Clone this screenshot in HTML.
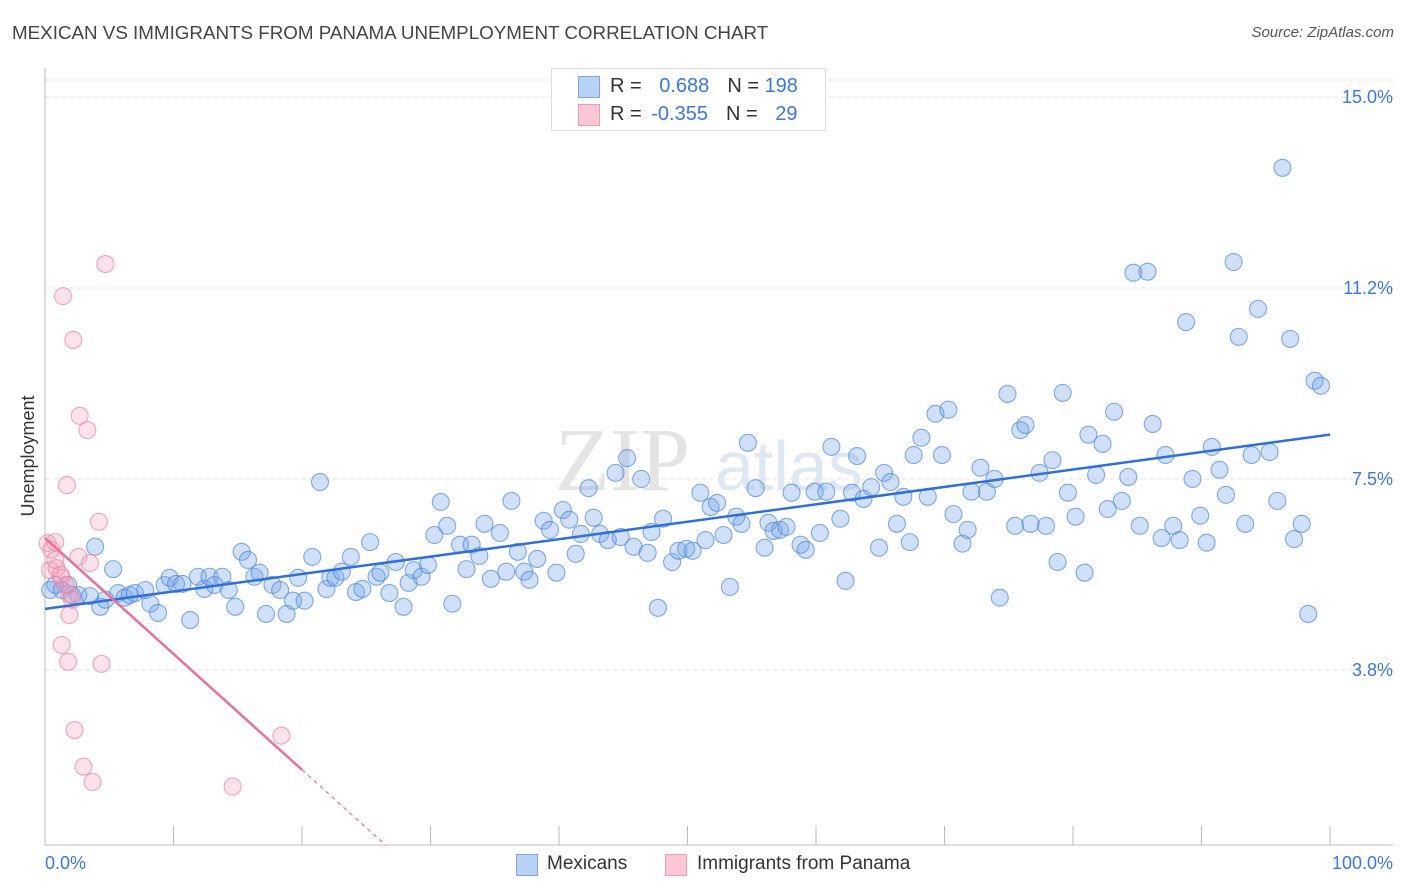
<!DOCTYPE html>
<html><head><meta charset="utf-8">
<style>
body{margin:0;background:#fff;font-family:"Liberation Sans",sans-serif;}
#wrap{position:relative;width:1406px;height:892px;overflow:hidden;}
.t{position:absolute;white-space:nowrap;}
</style></head>
<body>
<div id="wrap">
<div class="t" style="left:12px;top:22px;font-size:18.8px;color:#444;">MEXICAN VS IMMIGRANTS FROM PANAMA UNEMPLOYMENT CORRELATION CHART</div>
<div class="t" style="right:12px;top:24px;font-size:15px;color:#555;font-style:italic;">Source: ZipAtlas.com</div>
<svg id="chart" width="1406" height="892" style="position:absolute;left:0;top:0"></svg>
</div>
<script>
const blueX=[0.4,0.8,1.3,1.8,2.1,2.6,3.5,3.9,4.3,4.7,5.3,5.7,6.2,6.6,7.0,7.8,8.2,8.8,9.3,9.7,10.2,10.7,11.3,11.9,12.4,12.8,13.2,13.8,14.3,14.8,15.3,15.8,16.3,16.7,17.2,17.7,18.3,18.8,19.3,19.7,20.2,20.8,21.4,21.9,22.2,22.6,23.1,23.8,24.2,24.7,25.3,25.8,26.1,26.8,27.3,27.9,28.3,28.7,29.3,29.8,30.3,30.8,31.3,31.7,32.3,32.8,33.2,33.8,34.2,34.7,35.4,35.9,36.3,36.8,37.3,37.7,38.3,38.8,39.3,39.8,40.3,40.8,41.3,41.7,42.3,42.7,43.2,43.8,44.4,44.8,45.3,45.8,46.4,46.9,47.2,47.7,48.1,48.8,49.3,49.9,50.4,51.0,51.4,51.8,52.3,52.8,53.3,53.8,54.2,54.7,55.3,56.0,56.3,56.7,57.2,57.7,58.1,58.8,59.2,59.9,60.3,60.8,61.2,61.9,62.3,62.8,63.2,63.7,64.3,64.9,65.3,65.8,66.3,66.8,67.3,67.6,68.2,68.7,69.3,69.8,70.3,70.7,71.4,71.8,72.1,72.8,73.3,73.9,74.3,74.9,75.5,75.9,76.3,76.7,77.4,77.9,78.4,78.8,79.2,79.6,80.2,80.9,81.2,81.8,82.3,82.7,83.2,83.8,84.3,84.7,85.2,85.8,86.2,86.9,87.2,87.8,88.3,88.8,89.3,89.9,90.4,90.8,91.4,91.9,92.5,92.9,93.4,93.9,94.4,95.3,95.9,96.3,96.9,97.2,97.8,98.3,98.8,99.3];
const blueY=[5.32,5.42,5.32,5.42,5.22,5.22,5.20,6.17,4.99,5.13,5.73,5.26,5.17,5.22,5.26,5.32,5.05,4.87,5.42,5.56,5.44,5.44,4.73,5.58,5.34,5.58,5.42,5.58,5.32,4.99,6.07,5.91,5.58,5.66,4.85,5.42,5.32,4.85,5.11,5.56,5.11,5.97,7.44,5.34,5.56,5.56,5.68,5.97,5.28,5.34,6.26,5.58,5.66,5.26,5.87,4.99,5.46,5.71,5.58,5.81,6.40,7.05,6.58,5.05,6.21,5.73,6.21,5.99,6.62,5.54,6.44,5.68,7.07,6.07,5.68,5.52,5.93,6.68,6.50,5.66,6.89,6.70,6.03,6.42,7.32,6.74,6.42,6.30,7.62,6.36,7.91,6.17,7.50,6.05,6.46,4.97,6.72,5.87,6.09,6.13,6.09,7.23,6.30,6.95,7.03,6.40,5.38,6.76,6.62,8.21,7.32,6.15,6.64,6.48,6.50,6.56,7.23,6.21,6.11,7.25,6.44,7.25,8.13,6.72,5.50,7.23,7.95,7.11,7.34,6.15,7.62,7.44,6.62,7.15,6.26,7.97,8.31,7.15,8.78,7.97,8.86,6.81,6.23,6.50,7.25,7.72,7.25,7.50,5.17,9.17,6.58,8.46,8.56,6.62,7.62,6.58,7.87,5.87,9.19,7.23,6.76,5.66,8.37,7.58,8.19,6.91,8.82,7.07,7.54,11.55,6.58,11.57,8.58,6.34,7.97,6.58,6.30,10.58,7.50,6.78,6.25,8.13,7.68,7.19,11.76,10.29,6.62,7.97,10.84,8.03,7.07,13.61,10.25,6.32,6.62,4.85,9.43,9.33];
const pinkX=[0.2,0.5,0.8,0.4,0.9,1.3,1.6,1.9,1.4,2.2,2.7,3.3,1.7,4.2,2.6,3.5,4.7,1.3,1.8,4.4,2.3,3.0,3.7,14.6,18.4,1.9,1.2,2.1,0.8];
const pinkY=[6.24,6.11,6.26,5.71,5.75,5.56,5.42,5.24,11.09,10.23,8.74,8.46,7.38,6.66,5.97,5.85,11.72,4.24,3.91,3.87,2.57,1.85,1.55,1.46,2.46,4.83,5.62,5.13,5.91];
const blueTrend=[4.95,8.37];   // y at x=0 and x=100
const pinkTrend=[6.34,-0.2275]; // intercept, slope
const yTicks=[15.0,11.25,7.5,3.75];
const yTickLabels=["15.0%","11.2%","7.5%","3.8%"];
const xTicks=[0,10,20,30,40,50,60,70,80,90,100];

const X0=45,X1=1330,YT=97,PPY=50.93;
const sx=v=>X0+(X1-X0)*v/100;
const sy=v=>YT+(15-v)*PPY;
const NS="http://www.w3.org/2000/svg";
const svg=document.getElementById('chart');
function mk(tag,attrs,parent){const e=document.createElementNS(NS,tag);for(const k in attrs)e.setAttribute(k,attrs[k]);(parent||svg).appendChild(e);return e;}

let g=mk('line',{x1:X0,x2:1393,y1:80,y2:80,stroke:'#ddd','stroke-dasharray':'4,4'});


yTicks.forEach((v,i)=>{
  const l=mk('line',{x1:X0,x2:1393,y1:sy(v),y2:sy(v),stroke:'#e2e2e2','stroke-dasharray':'4,4'});
  
  
  const t=mk('text',{x:1393,y:sy(v)+6,'text-anchor':'end','font-size':18,fill:'#3b78d8','font-family':'Liberation Sans, sans-serif'});
  t.textContent=yTickLabels[i];
  
  
});
let ax=mk('line',{x1:X0,x2:X0,y1:68,y2:845,stroke:'#bbb'});


ax=mk('line',{x1:X0,x2:1393,y1:845,y2:845,stroke:'#bbb'});


xTicks.forEach(v=>{
  const l=mk('line',{x1:sx(v),x2:sx(v),y1:826,y2:845,stroke:'#bbb'});
  
  
});
let tx=mk('text',{x:45,y:869,'font-size':18,fill:'#3b78d8','font-family':'Liberation Sans, sans-serif'});tx.textContent='0.0%';


tx=mk('text',{x:1393,y:869,'text-anchor':'end','font-size':18,fill:'#3b78d8','font-family':'Liberation Sans, sans-serif'});tx.textContent='100.0%';


tx=mk('text',{x:34,y:456,'text-anchor':'middle','font-size':18,fill:'#333',transform:'rotate(-90 34 456)','font-family':'Liberation Sans, sans-serif'});tx.textContent='Unemployment';


tx=mk('text',{x:555,y:490,'font-size':90,fill:'#e4e4e4','font-family':'Liberation Serif, serif'});tx.textContent='ZIP';


tx=mk('text',{x:715,y:490,'font-size':70,fill:'#dfe7f3','font-family':'Liberation Sans, sans-serif'});tx.textContent='atlas';



blueX.forEach((x,i)=>{
  const c=mk('circle',{cx:sx(x),cy:sy(blueY[i]),r:8.5,fill:'rgba(120,165,235,0.35)',stroke:'rgba(80,135,220,0.7)','stroke-width':1.1});
  
  
});
pinkX.forEach((x,i)=>{
  const c=mk('circle',{cx:sx(x),cy:sy(pinkY[i]),r:8.5,fill:'rgba(245,160,185,0.3)',stroke:'rgba(235,130,160,0.7)','stroke-width':1.1});
  
  
});
let tl=mk('line',{x1:sx(0),y1:sy(blueTrend[0]),x2:sx(100),y2:sy(blueTrend[1]),stroke:'#2f6fd6','stroke-width':2.5});


const pEnd=20, pDash=(0.3-pinkTrend[0])/pinkTrend[1];
tl=mk('line',{x1:sx(0),y1:sy(pinkTrend[0]),x2:sx(pEnd),y2:sy(pinkTrend[0]+pinkTrend[1]*pEnd),stroke:'#e8709a','stroke-width':2.5});


tl=mk('line',{x1:sx(pEnd),y1:sy(pinkTrend[0]+pinkTrend[1]*pEnd),x2:sx(pDash),y2:sy(0.3),stroke:'#e8709a','stroke-width':1.2,'stroke-dasharray':'4,4'});


</script>
<div style="position:absolute;left:551px;top:68px;width:273px;height:61px;border:1px solid #ddd;background:#fff;font-size:20px;">
  <div style="position:absolute;left:26px;top:7px;width:20px;height:20px;background:#b8d2f5;border:1px solid #7ea6e4;"></div>
  <div class="t" style="left:58px;top:6px;color:#333;">R = <span style="color:#3b78d8;margin-left:12px">0.688</span><span style="color:#333;margin-left:18px">N = </span><span style="color:#3b78d8">198</span></div>
  <div style="position:absolute;left:26px;top:35px;width:20px;height:20px;background:#fbc6d5;border:1px solid #f09ab4;"></div>
  <div class="t" style="left:58px;top:34px;color:#333;">R = <span style="color:#3b78d8;margin-left:4px">-0.355</span><span style="color:#333;margin-left:18px">N = </span><span style="color:#3b78d8;margin-left:12px">29</span></div>
</div>
<div style="position:absolute;left:0;top:0;">
  <div style="position:absolute;left:516px;top:854px;width:20px;height:20px;background:#b8d2f5;border:1px solid #7ea6e4;"></div>
  <div class="t" style="left:547px;top:853px;font-size:19px;color:#333;">Mexicans</div>
  <div style="position:absolute;left:665px;top:854px;width:20px;height:20px;background:#fbc6d5;border:1px solid #f09ab4;"></div>
  <div class="t" style="left:697px;top:853px;font-size:19px;color:#333;">Immigrants from Panama</div>
</div>
</body></html>
